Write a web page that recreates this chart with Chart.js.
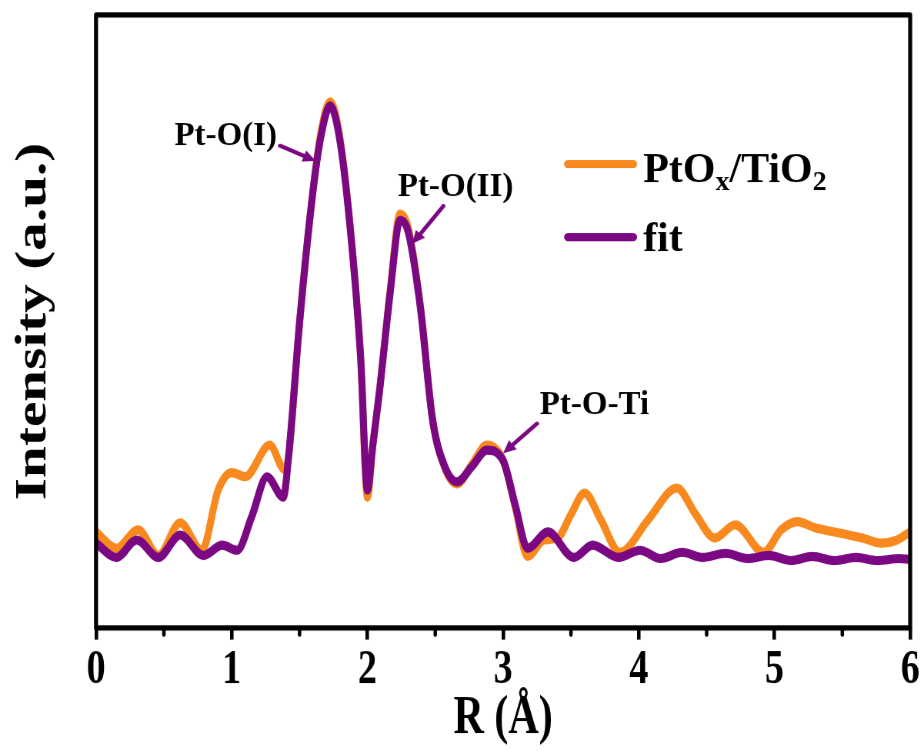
<!DOCTYPE html>
<html>
<head>
<meta charset="utf-8">
<script src="https://cdn.jsdelivr.net/npm/chart.js@4"></script>
<style>
  html, body { margin: 0; padding: 0; background: #fff; }
  body { width: 924px; height: 751px; }
  /* the figure is drawn on a short canvas and stretched vertically */
  #wrap { width: 924px; height: 578px; transform: scaleY(1.29931); transform-origin: 0 0; }
</style>
</head>
<body>
<div id="wrap"><canvas id="ftChart" width="924" height="578"></canvas></div>
<script>
// --- DATA ---
const rData = [0, 0.15, 0.31, 0.46, 0.62, 0.78, 0.9, 1.0, 1.1, 1.28, 1.39, 1.42, 1.5, 1.6, 1.66, 1.725, 1.79, 1.87,
  1.95, 2.0, 2.04, 2.09, 2.17, 2.24, 2.3, 2.39, 2.48, 2.57, 2.66, 2.77, 2.88, 3.0, 3.09, 3.18, 3.3, 3.4,
  3.5, 3.6, 3.72, 3.86, 4.07, 4.28, 4.42, 4.56, 4.71, 4.92, 5.05, 5.17, 5.3, 5.48, 5.65, 5.78, 5.9, 6.0];
const intensityData = [0.94, 0.78, 0.96, 0.71, 1.03, 0.76, 1.35, 1.52, 1.48, 1.79, 1.55, 1.69, 2.99, 4.29, 4.87, 5.15, 4.86, 3.97,
  2.65, 1.28, 1.79, 2.33, 3.33, 4.05, 3.92, 3.16, 2.04, 1.57, 1.41, 1.60, 1.79, 1.64, 1.18, 0.70, 0.86, 0.88,
  1.11, 1.32, 1.06, 0.74, 1.06, 1.37, 1.11, 0.88, 1.01, 0.74, 0.96, 1.04, 0.98, 0.93, 0.88, 0.83, 0.86, 0.94];

const rFit = [0, 0.15, 0.3, 0.46, 0.62, 0.79, 0.93, 1.04, 1.15, 1.26, 1.38, 1.42, 1.5, 1.6, 1.66, 1.725, 1.79, 1.87,
  1.95, 2.0, 2.04, 2.09, 2.17, 2.24, 2.3, 2.39, 2.48, 2.57, 2.66, 2.77, 2.88, 3.0, 3.09, 3.18, 3.33, 3.52,
  3.66, 3.85, 4.01, 4.16, 4.32, 4.47, 4.64, 4.8, 4.96, 5.12, 5.28, 5.44, 5.6, 5.76, 5.92, 6.0];
const intensityFit = [0.83, 0.69, 0.86, 0.69, 0.91, 0.71, 0.81, 0.76, 1.1, 1.48, 1.28, 1.69, 2.99, 4.29, 4.83, 5.11, 4.83, 3.96,
  2.65, 1.35, 1.79, 2.33, 3.31, 3.99, 3.88, 3.14, 2.04, 1.58, 1.43, 1.58, 1.74, 1.64, 1.20, 0.78, 0.94, 0.69,
  0.81, 0.69, 0.76, 0.68, 0.74, 0.69, 0.73, 0.68, 0.71, 0.66, 0.70, 0.66, 0.69, 0.66, 0.68, 0.67];

const xTicks = [0, 1, 2, 3, 4, 5, 6];
const xMinorTicks = [0.5, 1.5, 2.5, 3.5, 4.5, 5.5];

// peak labels: text anchor, arrow tail and arrow tip in (R, intensity)
const peakLabels = ['Pt-O(I)', 'Pt-O(II)', 'Pt-O-Ti'];
const labelAnchors = [[1.334, 4.81], [2.65, 4.31], [3.27, 2.18]];
const arrowTails = [[1.356, 4.72], [2.56, 4.13], [3.25, 2.0]];
const arrowTips = [[1.62, 4.57], [2.33, 3.76], [3.0, 1.71]];

const ORANGE = '#f7891e';
const PURPLE = '#7a0882';
const STRETCH = 751 / 578;
const SERIF = "'Liberation Serif', 'Times New Roman', serif";

const toPoints = (xs, ys) => xs.map((x, i) => ({ x: x, y: ys[i] }));

// --- PLUGINS ---
const framePlugin = {
  id: 'frame',
  afterDraw(chart) {
    const { ctx, chartArea: a, scales } = chart;
    ctx.save();
    ctx.strokeStyle = '#000';
    ctx.lineWidth = 3.5;
    ctx.lineCap = 'round';
    // minor ticks at half steps
    xMinorTicks.forEach(v => {
      const px = scales.x.getPixelForValue(v);
      ctx.beginPath();
      ctx.moveTo(px, a.bottom);
      ctx.lineTo(px, a.bottom + 5);
      ctx.stroke();
    });
    ctx.lineWidth = 4;
    ctx.lineJoin = 'round';
    ctx.strokeRect(a.left, a.top, a.right - a.left, a.bottom - a.top);
    ctx.restore();
  }
};

// legend and peak labels are drawn unstretched
const labelPlugin = {
  id: 'labels',
  afterDraw(chart) {
    const { ctx, scales } = chart;
    const px = p => [scales.x.getPixelForValue(p[0]), scales.y.getPixelForValue(p[1]) * STRETCH];
    ctx.save();
    ctx.scale(1, 1 / STRETCH);

    // legend
    ctx.lineCap = 'round';
    ctx.lineWidth = 8;
    [[ORANGE, 164], [PURPLE, 237]].forEach(([c, y]) => {
      ctx.strokeStyle = c;
      ctx.beginPath();
      ctx.moveTo(568, y);
      ctx.lineTo(633, y);
      ctx.stroke();
    });
    ctx.fillStyle = '#000';
    ctx.textBaseline = 'alphabetic';
    ctx.textAlign = 'left';
    const big = 'bold 42px ' + SERIF, small = 'bold 28px ' + SERIF;
    let x = 643;
    [['PtO', big, 0], ['x', small, 8], ['/TiO', big, 0], ['2', small, 8]].forEach(([t, f, dy]) => {
      ctx.font = f;
      ctx.fillText(t, x, 182 + dy);
      x += ctx.measureText(t).width;
    });
    ctx.font = big;
    ctx.fillText('fit', 643, 251);

    // peak labels with arrows
    ctx.font = 'bold 33px ' + SERIF;
    ctx.textBaseline = 'middle';
    peakLabels.forEach((t, i) => {
      const [tx, ty] = px(labelAnchors[i]);
      ctx.textAlign = i === 0 ? 'right' : (i === 1 ? 'center' : 'left');
      ctx.fillStyle = '#000';
      ctx.fillText(t, tx, ty);

      const [x0, y0] = px(arrowTails[i]);
      const [x1, y1] = px(arrowTips[i]);
      const ang = Math.atan2(y1 - y0, x1 - x0);
      const head = 13;
      ctx.strokeStyle = PURPLE;
      ctx.fillStyle = PURPLE;
      ctx.lineWidth = 4;
      ctx.beginPath();
      ctx.moveTo(x0, y0);
      ctx.lineTo(x1 - head * 0.8 * Math.cos(ang), y1 - head * 0.8 * Math.sin(ang));
      ctx.stroke();
      ctx.beginPath();
      ctx.moveTo(x1, y1);
      ctx.lineTo(x1 - head * Math.cos(ang) + 6 * Math.sin(ang), y1 - head * Math.sin(ang) - 6 * Math.cos(ang));
      ctx.lineTo(x1 - head * Math.cos(ang) - 6 * Math.sin(ang), y1 - head * Math.sin(ang) + 6 * Math.cos(ang));
      ctx.closePath();
      ctx.fill();
    });
    ctx.restore();
  }
};

// --- CHART ---
new Chart(document.getElementById('ftChart').getContext('2d'), {
  type: 'line',
  data: {
    datasets: [
      { label: 'fit', data: toPoints(rFit, intensityFit), borderColor: PURPLE, borderWidth: 7, order: 0 },
      { label: 'PtOx/TiO2', data: toPoints(rData, intensityData), borderColor: ORANGE, borderWidth: 7, order: 1 }
    ]
  },
  options: {
    responsive: false,
    animation: false,
    devicePixelRatio: 1.3,
    layout: { padding: { top: 11.5, right: 14, left: 0, bottom: 0 } },
    elements: {
      point: { radius: 0 },
      line: { cubicInterpolationMode: 'monotone', borderJoinStyle: 'round', borderCapStyle: 'round' }
    },
    plugins: { legend: { display: false }, tooltip: { enabled: false } },
    scales: {
      x: {
        type: 'linear', min: 0, max: 6,
        afterBuildTicks: s => { s.ticks = xTicks.map(v => ({ value: v })); },
        afterFit: s => { s.height = 95; },
        grid: { drawOnChartArea: false, drawTicks: true, tickLength: 9, lineWidth: 3.5, color: '#000' },
        border: { display: false },
        ticks: { color: '#000', padding: 1, maxRotation: 0, font: { family: SERIF, size: 38, weight: 'bold' } },
        title: { display: true, text: 'R (Å)', color: '#000', padding: { bottom: 4 },
          font: { family: SERIF, size: 42, weight: 'bold', lineHeight: 1 } }
      },
      y: {
        min: 0, max: 6,
        afterFit: s => { s.width = 96; },
        grid: { display: false },
        border: { display: false },
        ticks: { display: false },
        title: { display: true, text: 'Intensity (a.u.)', color: '#000', padding: { top: 12 },
          font: { family: SERIF, size: 44, weight: 'bold', lineHeight: 1 } }
      }
    }
  },
  plugins: [framePlugin, labelPlugin]
});
</script>
</body>
</html>
